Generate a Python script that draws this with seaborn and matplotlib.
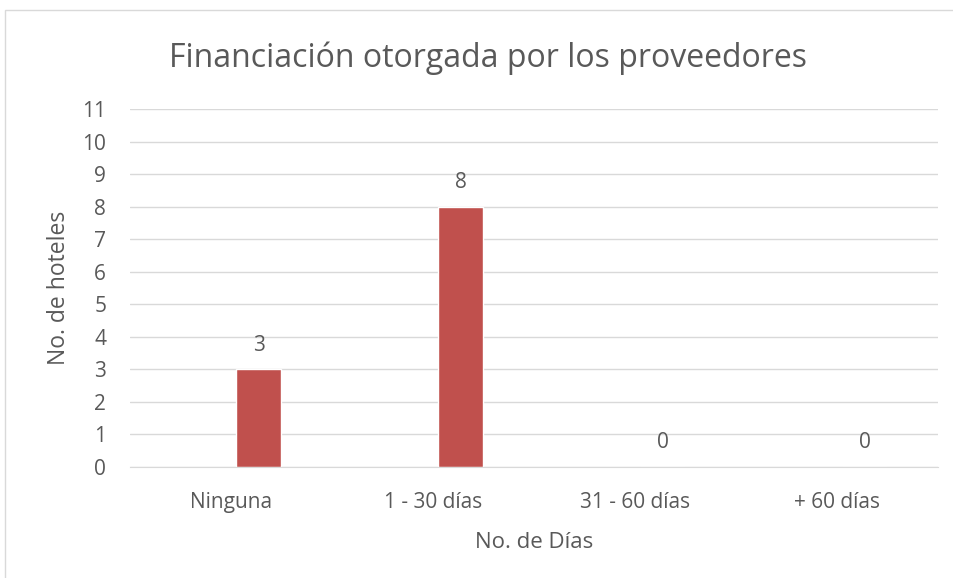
import pandas as pd
import seaborn as sns
import matplotlib.pyplot as plt
from matplotlib.patches import Rectangle

# ===============================
# DATA
# ===============================
categorias = ["Ninguna", "1 - 30 días", "31 - 60 días", "+ 60 días"]
hoteles = [3, 8, 0, 0]
y_ticks = list(range(0, 12))

df = pd.DataFrame({"dias": categorias, "hoteles": hoteles})

# ===============================
# PLOT
# ===============================
sns.set_style("white")
plt.rcParams["font.family"] = ["Open Sans", "DejaVu Sans"]
txt = "#595959"

fig = plt.figure(figsize=(9.54, 5.78), dpi=100)
ax = fig.add_axes([0.136, 0.192, 0.847, 0.619])

sns.barplot(data=df, x="dias", y="hoteles", color="#C0504D", width=0.22,
            saturation=1, ax=ax)

# the bars sit right of the category centre (as in the original chart)
shift = 0.138
for p in ax.patches:
    p.set_x(p.get_x() + shift)

ax.set_xlim(-0.5, len(categorias) - 0.5)
ax.set_ylim(0, 11)
ax.set_yticks(y_ticks)
ax.yaxis.grid(True, color="#D9D9D9", linewidth=1)
ax.set_axisbelow(True)
for s in ["top", "right", "left"]:
    ax.spines[s].set_visible(False)
ax.spines["bottom"].set_color("#D9D9D9")
ax.tick_params(axis="both", length=0, colors=txt, labelsize=15)
ax.tick_params(axis="x", pad=18)
ax.tick_params(axis="y", pad=17)

for i, v in enumerate(hoteles):
    ax.text(i + shift, v + 0.42, str(v), ha="center", va="bottom",
            fontsize=15, color=txt)

ax.set_xlabel("No. de Días", fontsize=16, color=txt, labelpad=14)
ax.set_ylabel("No. de hoteles", fontsize=16.5, color=txt, labelpad=8)
fig.text(0.512, 0.9, "Financiación otorgada por los proveedores",
         ha="center", va="center", fontsize=23, color=txt)

# outer chart border
fig.patches.append(Rectangle((5 / 954, -0.01), 1.0, 1 - 10 / 578 + 0.01,
                             transform=fig.transFigure, fill=False,
                             edgecolor="#D9D9D9", linewidth=1))

plt.savefig("out.png", dpi=100)
